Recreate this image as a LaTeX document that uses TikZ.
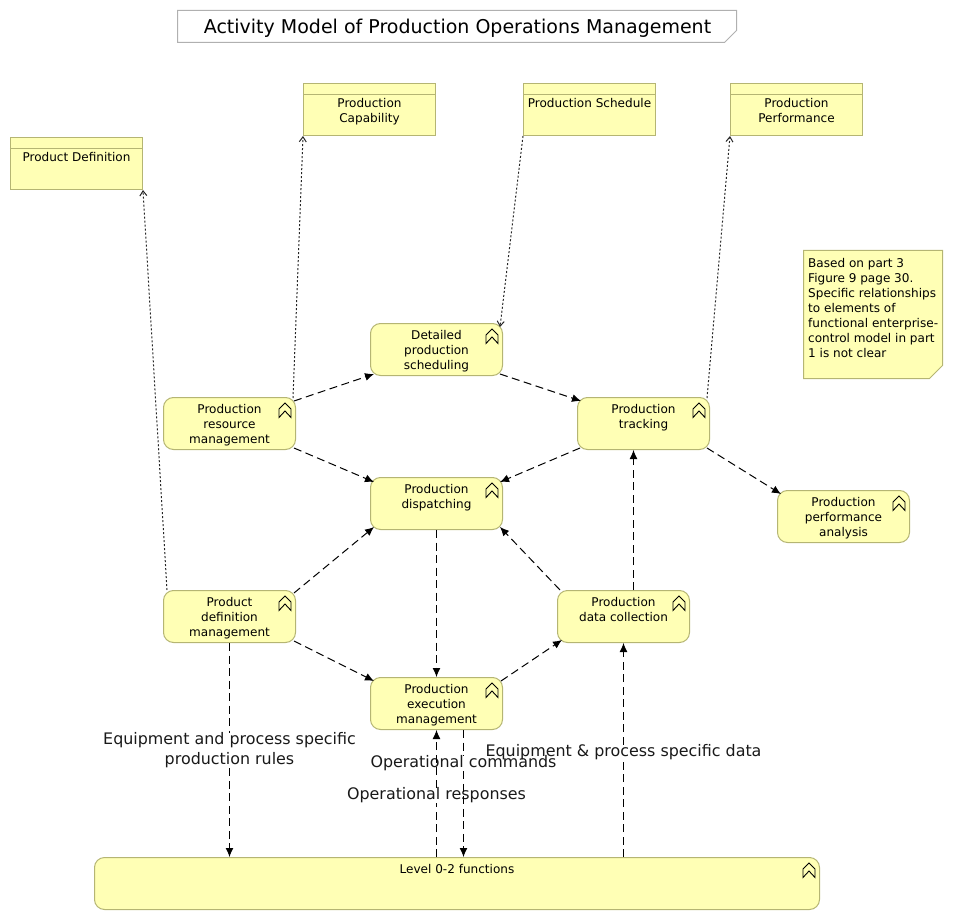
\documentclass[tikz,border=0pt]{standalone}
\usepackage{fontspec}
\setmainfont{DejaVu Sans}
\usetikzlibrary{arrows.meta}
\definecolor{boxfill}{HTML}{FFFFB5}
\definecolor{boxline}{HTML}{B5B573}
\definecolor{titleline}{HTML}{B0B0B0}
\tikzset{
	boxtext/.style={anchor=north,inner sep=0pt,align=center,font=\fontsize{12.05}{15}\selectfont},
	act/.style={draw=boxline,fill=boxfill,line width=1pt,rounded corners=10pt,minimum height=52pt,minimum width=132pt,inner sep=0pt,
		label={[boxtext,yshift=-7.3pt]north:#1}},
	docbox/.style={draw=boxline,fill=boxfill,line width=1pt,minimum height=52pt,minimum width=132pt,inner sep=0pt,
		label={[boxtext,yshift=-15.3pt]north:#1}},
	flow/.style={draw=black,line width=1pt,dash pattern=on 8pt off 4.5pt,-{Latex[length=9pt,width=8pt]}},
	flowbare/.style={draw=black,line width=1pt,dash pattern=on 8pt off 4.5pt},
	access/.style={draw=black!85,line width=1pt,dash pattern=on 2pt off 2pt,-{Straight Barb[length=5pt,width=7pt]}},
	flowlabel/.style={align=center,inner sep=0pt,font=\fontsize{15.9}{20}\selectfont,text=black!90},
	chevron/.style={draw=black,line width=0.9pt,line join=miter},
}
\begin{document}
\begin{tikzpicture}[x=1pt,y=-1pt]
	\useasboundingbox (-0.5,-0.5) rectangle (952.5,919.5);

	% title
	\filldraw[draw=titleline,fill=white,line width=1pt] (177,10) -- (736,10) -- (736,30) -- (724,42) -- (177,42) -- cycle;
	\node (title) at (457,27.5) [inner sep=0pt,font=\fontsize{19}{22}\selectfont] {Activity Model of Production Operations Management};

	% data objects
	\node (pd) at (76,163) [docbox={Product Definition}] {};
	\node (cap) at (369,109) [docbox={Production\\Capability}] {};
	\node (sch) at (589,109) [docbox={Production Schedule}] {};
	\node (perf) at (796,109) [docbox={Production\\Performance}] {};
	\foreach \n in {pd,cap,sch,perf}
		\draw[boxline,line width=1pt] ([yshift=-12pt]\n.north west) -- ([yshift=-12pt]\n.north east);

	% note
	\filldraw[draw=boxline,fill=boxfill,line width=1pt] (803,250) -- (942,250) -- (942,365) -- (929,378) -- (803,378) -- cycle;
	\node (note) at (807.5,257.8) [anchor=north west,inner sep=0pt,align=left,font=\fontsize{12.05}{15}\selectfont]
		{Based on part 3\\Figure 9 page 30.\\Specific relationships\\to elements of\\functional enterprise-\\control model in part\\1 is not clear};

	% functions
	\node (pds) at (436,349) [act={Detailed\\production\\scheduling}] {};
	\node (prm) at (229,423) [act={Production\\resource\\management}] {};
	\node (ptr) at (643,423) [act={Production\\tracking}] {};
	\node (dis) at (436,503) [act={Production\\dispatching}] {};
	\node (ana) at (843,516) [act={Production\\performance\\analysis}] {};
	\node (pdm) at (229,616) [act={Product\\definition\\management}] {};
	\node (pdc) at (623,616) [act={Production\\data collection}] {};
	\node (pem) at (436,703) [act={Production\\execution\\management}] {};
	\node (lvl) at (456.5,883) [act={Level 0-2 functions},minimum width=725pt] {};
	\foreach \n in {pds,prm,ptr,dis,ana,pdm,pdc,pem,lvl}
		\draw[chevron,shift={(\n.north east)}] (-11,6) -- (-5,12) -- (-5,20.5) -- (-11,14) -- (-17,20.5) -- (-17,12) -- cycle;

	% flow labels
	\node (rules) at (229,750) [flowlabel] {Equipment and process specific\\production rules};
	\node (cmds) at (463,763) [flowlabel] {Operational commands};
	\node (resp) at (436,795) [flowlabel] {Operational responses};
	\node (data) at (623,752) [flowlabel] {Equipment \& process specific data};

	% flows
	\draw[flow] ([shift={(-2,4)}]prm.north east) -- ([shift={(4,-2)}]pds.south west);
	\draw[flow] ([shift={(-3,-2)}]pds.south east) -- ([shift={(4,4)}]ptr.north west);
	\draw[flow] ([shift={(-2,-2)}]prm.south east) -- ([shift={(4,5)}]dis.north west);
	\draw[flow] ([shift={(3,-2)}]ptr.south west) -- ([shift={(-3,5)}]dis.north east);
	\draw[flow] ([shift={(-3,-2)}]ptr.south east) -- ([shift={(4,4)}]ana.north west);
	\draw[flow] ([shift={(-2,3)}]pdm.north east) -- ([shift={(4,-3)}]dis.south west);
	\draw[flow] ([shift={(3,0)}]pdc.north west) -- ([shift={(-3,-3)}]dis.south east);
	\draw[flow] ([shift={(-2,-2)}]pdm.south east) -- ([shift={(4,4)}]pem.north west);
	\draw[flow] ([shift={(-2,4)}]pem.north east) -- ([shift={(5,-3)}]pdc.south west);
	\draw[flow] (dis) -- (pem);
	\draw[flow] ([xshift=10pt]pdc.north) -- ([xshift=10pt]pdc.north |- ptr.south);

	% flows broken by their label
	\draw[flowbare] (pdm) -- (rules);
	\draw[flow] (rules) -- (rules |- lvl.north);
	\draw[flowbare] (cmds |- pem.south) -- (cmds);
	\draw[flow] (cmds) -- (cmds |- lvl.north);
	\draw[flowbare] (resp |- lvl.north) -- (resp);
	\draw[flow] (resp) -- (resp |- pem.south);
	\draw[flowbare] (data |- lvl.north) -- (data);
	\draw[flow] (data) -- (data |- pdc.south);

	% access relations
	\draw[access] ([shift={(4,0)}]pdm.north west) -- (pd.south east);
	\draw[access] ([shift={(-3,1)}]prm.north east) -- (cap.south west);
	\draw[access] (sch.south west) -- ([shift={(-3,4)}]pds.north east);
	\draw[access] ([shift={(-3,1)}]ptr.north east) -- (perf.south west);
\end{tikzpicture}
\end{document}
